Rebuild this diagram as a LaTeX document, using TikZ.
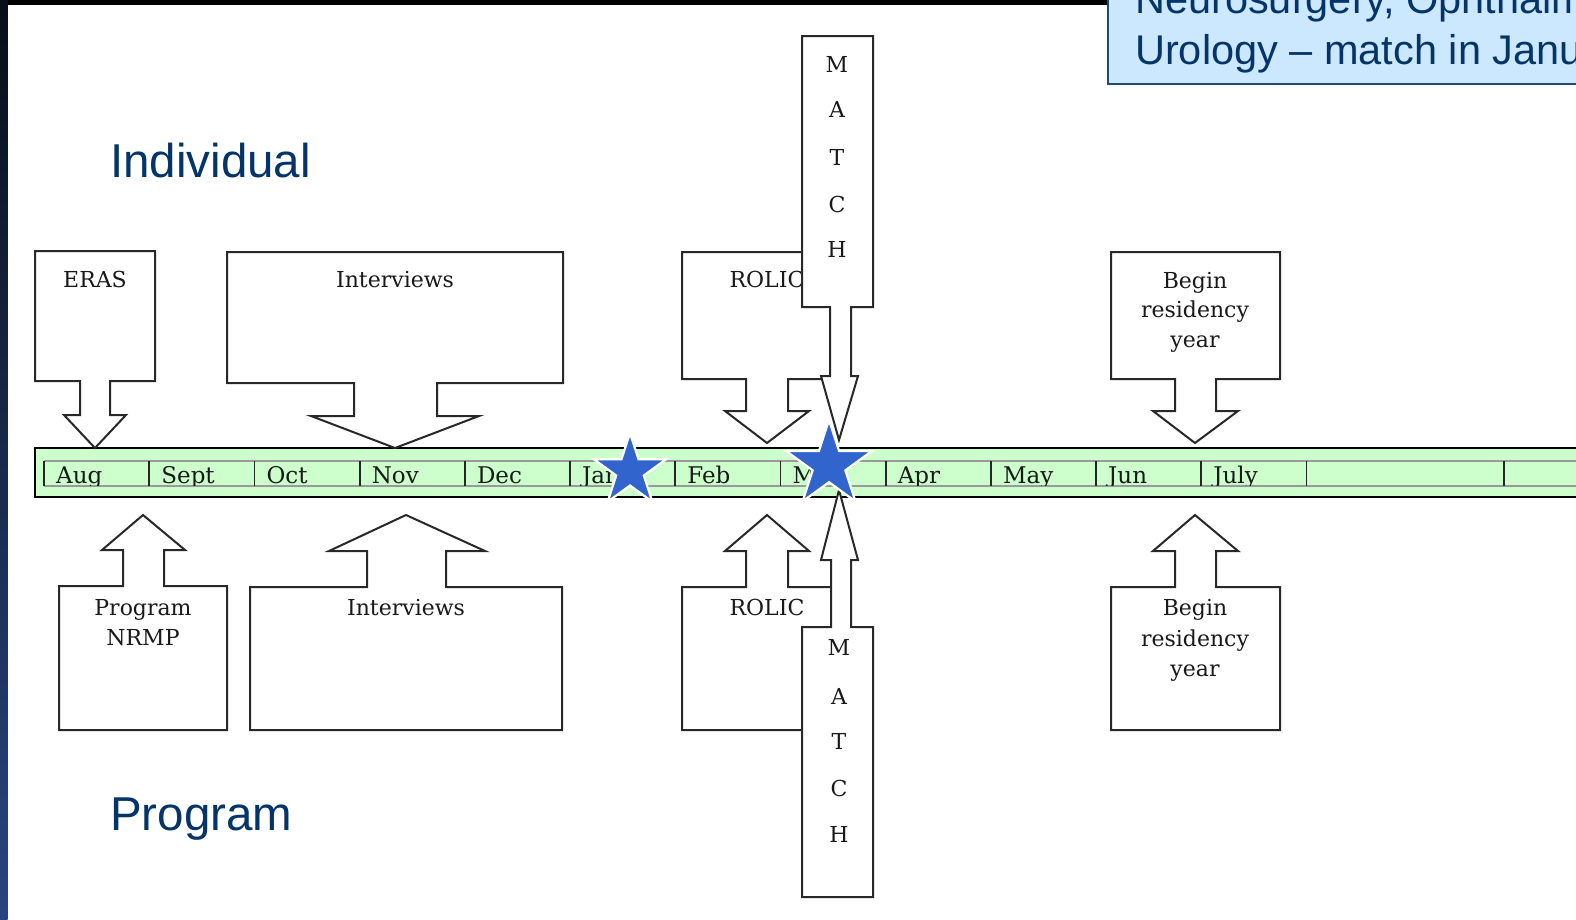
\documentclass[tikz,border=0pt]{standalone}
\usepackage{fontspec}
\setmainfont{DejaVu Serif}
\newfontfamily\arialf{Liberation Sans}
\usetikzlibrary{shapes.geometric}
\definecolor{navy}{RGB}{4,52,104}
\definecolor{bargreen}{RGB}{204,255,204}
\definecolor{calloutblue}{RGB}{204,232,255}
\definecolor{calloutline}{RGB}{31,73,125}
\definecolor{starblue}{RGB}{50,100,205}
\definecolor{boxline}{RGB}{40,40,40}
\definecolor{framedark}{RGB}{8,14,26}
\definecolor{frameblue}{RGB}{40,70,125}
\begin{document}
\begin{tikzpicture}[x=1pt,y=-1pt,
  shapebox/.style={draw=boxline, line width=2pt, fill=white, line join=miter},
  boxlabel/.style={font=\fontsize{22}{28}\selectfont, inner sep=0, anchor=base, text=black!90},
  monthlabel/.style={font=\fontsize{23}{28}\selectfont, inner sep=0, anchor=base west, text=black!90},
  matchletter/.style={font=\fontsize{22}{28}\selectfont, inner sep=0, anchor=base, text=black!90},
  bigtitle/.style={font=\arialf\fontsize{47.5}{56}\selectfont, text=navy, inner sep=0, anchor=base west},
  callouttext/.style={font=\arialf\fontsize{41.5}{50}\selectfont, text=navy, inner sep=0, anchor=base west},
  bluestar/.style={star, star points=5, star point ratio=2.618, fill=starblue, draw=white, line width=2.2pt, inner sep=0}
]
\useasboundingbox (0,0) rectangle (1576,919);
\fill[white] (0,0) rectangle (1576,919);
% frame
\fill[black] (0,0) rectangle (1108,5);
\shade[top color=framedark, bottom color=frameblue] (0,0) rectangle (7.5,919);
% callout
\draw[fill=calloutblue, draw=calloutline, line width=1.5pt] (1108,-5) rectangle (1590,84);
\node[callouttext] (c1) at (1135,13) {Neurosurgery, Ophthalm};
\node[callouttext] (c2) at (1135,64) {Urology – match in Janu};
% titles
\node[bigtitle] (indiv) at (110,177) {Individual};
\node[bigtitle] (prog) at (110,830) {Program};
% timeline bar
\draw[fill=bargreen, draw=black, line width=1.6pt] (35,448) rectangle (1600,497);
\draw[black!40, line width=1.3pt] (44,461) -- (1600,461) (44,486) -- (1600,486);
\foreach \k in {0,...,12} {
  \draw[black!85, line width=1.8pt] ({44+105.2*\k},461) -- ({44+105.2*\k},486);
}
\draw[black!85, line width=1.8pt] (1504,461) -- (1504,486);
\begin{scope}
\clip (35,449) rectangle (1576,485.3);
\foreach \m [count=\i from 0] in {Aug,Sept,Oct,Nov,Dec,Jan,Feb,Mar,Apr,May,Jun,July} {
  \node[monthlabel] (m\i) at ({56+105.2*\i},483) {\m};
}
\end{scope}
% ---- top shapes (down arrows)
\draw[shapebox] (35,251) -- (155,251) -- (155,381) -- (110,381) -- (110,415) -- (126,415) -- (95,448) -- (64,415) -- (80,415) -- (80,381) -- (35,381) -- cycle;
\node[boxlabel] (eras) at (95,287) {ERAS};
\draw[shapebox] (227,252) -- (563,252) -- (563,383) -- (437,383) -- (437,416) -- (479,416) -- (395,448) -- (311,416) -- (354,416) -- (354,383) -- (227,383) -- cycle;
\node[boxlabel] (intA) at (395,287) {Interviews};
\draw[shapebox] (682,252) -- (845,252) -- (845,379) -- (788,379) -- (788,411) -- (809,411) -- (767,443) -- (725,411) -- (746,411) -- (746,379) -- (682,379) -- cycle;
\node[boxlabel] (rolA) at (767,287) {ROLIC};
\draw[shapebox] (802,36) -- (873,36) -- (873,307) -- (851,307) -- (851,376) -- (858,376) -- (839,440) -- (821,376) -- (830,376) -- (830,307) -- (802,307) -- cycle;
\foreach \l/\y [count=\j] in {M/72,A/117,T/165,C/212,H/257} {
  \node[matchletter] (mt\j) at (837,\y) {\l};
}
\draw[shapebox] (1111,252) -- (1280,252) -- (1280,379) -- (1216,379) -- (1216,411) -- (1238,411) -- (1195,443) -- (1153,411) -- (1175,411) -- (1175,379) -- (1111,379) -- cycle;
\node[boxlabel] (bA1) at (1195,288) {Begin};
\node[boxlabel] (bA2) at (1195,317) {residency};
\node[boxlabel] (bA3) at (1195,347) {year};
% ---- bottom shapes (up arrows)
\draw[shapebox] (59,730) -- (59,586) -- (123,586) -- (123,550) -- (102,550) -- (143,515) -- (185,550) -- (164,550) -- (164,586) -- (227,586) -- (227,730) -- cycle;
\node[boxlabel] (p1) at (143,615) {Program};
\node[boxlabel] (p2) at (143,645) {NRMP};
\draw[shapebox] (250,730) -- (250,587) -- (367,587) -- (367,551) -- (329,551) -- (406,515) -- (485,551) -- (446,551) -- (446,587) -- (562,587) -- (562,730) -- cycle;
\node[boxlabel] (intB) at (406,615) {Interviews};
\draw[shapebox] (682,730) -- (682,587) -- (746,587) -- (746,551) -- (725,551) -- (767,515) -- (809,551) -- (788,551) -- (788,587) -- (849,587) -- (849,730) -- cycle;
\node[boxlabel] (rolB) at (767,615) {ROLIC};
\draw[shapebox] (802,897) -- (802,627) -- (831,627) -- (831,560) -- (821,560) -- (839,490) -- (858,560) -- (851,560) -- (851,627) -- (873,627) -- (873,897) -- cycle;
\foreach \l/\y [count=\j] in {M/655,A/704,T/749,C/796,H/842} {
  \node[matchletter] (mb\j) at (839,\y) {\l};
}
\draw[shapebox] (1111,730) -- (1111,587) -- (1175,587) -- (1175,551) -- (1153,551) -- (1195,515) -- (1238,551) -- (1216,551) -- (1216,587) -- (1280,587) -- (1280,730) -- cycle;
\node[boxlabel] (bB1) at (1195,615) {Begin};
\node[boxlabel] (bB2) at (1195,646) {residency};
\node[boxlabel] (bB3) at (1195,676) {year};
% stars
\node[bluestar, minimum size=76pt] (star1) at (630,471) {};
\node[bluestar, minimum size=90pt] (star2) at (829,465) {};
\end{tikzpicture}
\end{document}
